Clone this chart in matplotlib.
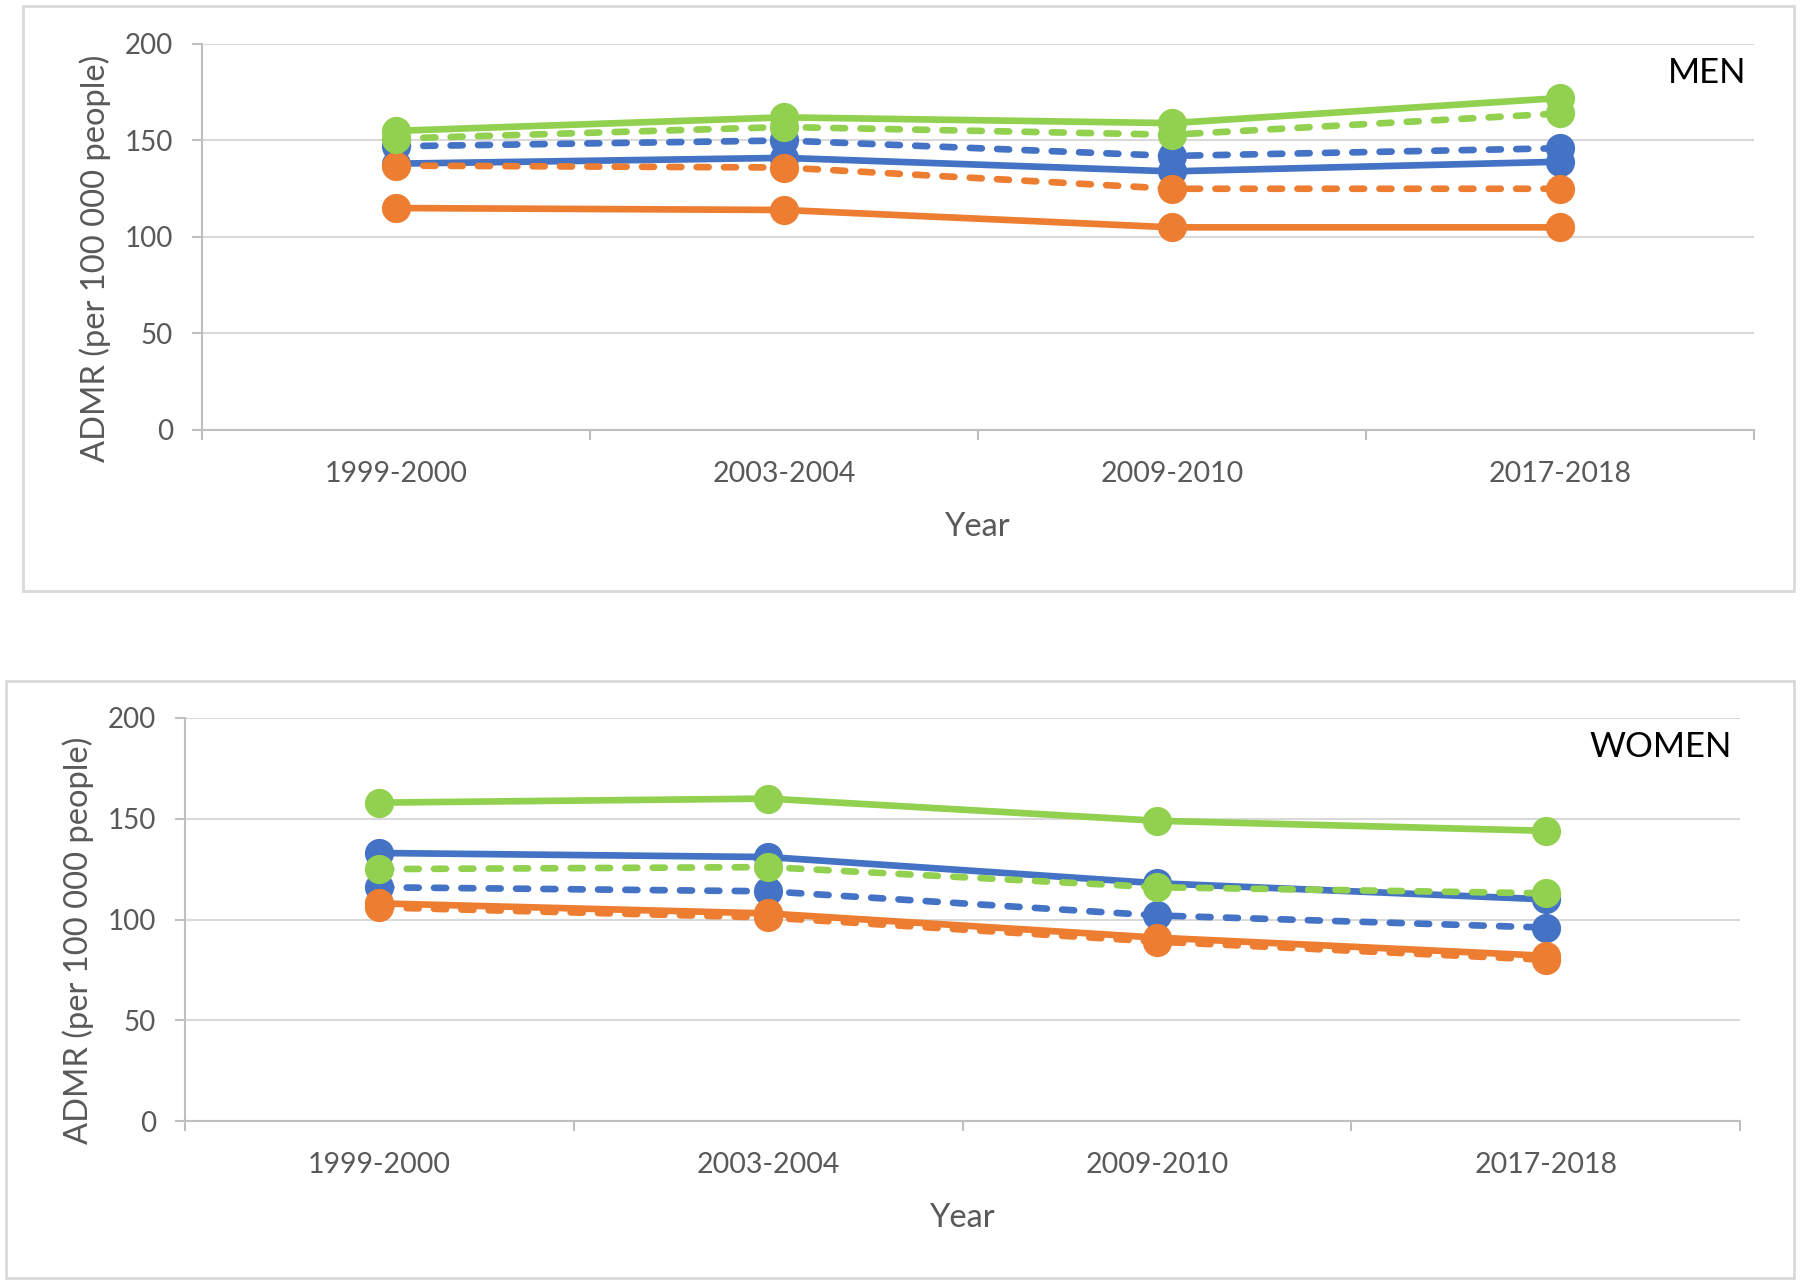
import numpy as np
import matplotlib
matplotlib.use('Agg')
import matplotlib.pyplot as plt
from matplotlib.patches import Rectangle

plt.rcParams['font.family'] = ['Lato', 'DejaVu Sans']

years = ['1999-2000', '2003-2004', '2009-2010', '2017-2018']

# MEN
men_blue_solid = [138, 141, 134, 139]
men_blue_dash = [147, 150, 142, 146]
men_orange_solid = [115, 114, 105, 105]
men_orange_dash = [137, 136, 125, 125]
men_green_solid = [155, 162, 159, 172]
men_green_dash = [151, 157, 153, 164]

# WOMEN
women_blue_solid = [133, 131, 118, 110]
women_blue_dash = [116, 114, 102, 96]
women_orange_solid = [108, 103, 91, 82]
women_orange_dash = [106, 101, 89, 80]
women_green_solid = [158, 160, 149, 144]
women_green_dash = [125, 126, 116, 113]

BLUE = '#4472C4'
ORANGE = '#ED7D31'
GREEN = '#92D050'
GRAY = '#595959'
GRID = '#d9d9d9'

fig = plt.figure(figsize=(18, 12.85), dpi=100)
W, H = 1800, 1285

def box(x0, y0, x1, y1):
    fig.patches.append(Rectangle((x0 / W, 1 - y1 / H), (x1 - x0) / W, (y1 - y0) / H,
                                 transform=fig.transFigure, fill=False,
                                 edgecolor=GRID, lw=2))

box(23, 6, 1794, 591)
box(6, 681, 1794, 1278)


def panel(rect, series, title, title_xy, label_y):
    ax = fig.add_axes(rect)
    x = np.arange(len(years))
    for vals, color, dashed in series:
        line, = ax.plot(x, vals, color=color, lw=4.8, marker='o', markersize=20,
                        solid_capstyle='round', dash_capstyle='round', zorder=3)
        if dashed:
            line.set_dashes((1.8, 2.3))
    ax.set_xlim(-0.5, 3.5)
    ax.set_ylim(0, 200)
    ax.set_yticks([0, 50, 100, 150, 200])
    ax.yaxis.grid(True, color=GRID, lw=1.5)
    ax.set_axisbelow(True)
    for s in ['top', 'right']:
        ax.spines[s].set_visible(False)
    ax.spines['left'].set_color('#bfbfbf')
    ax.spines['bottom'].set_color('#bfbfbf')
    ax.spines['left'].set_linewidth(1.5)
    ax.spines['bottom'].set_linewidth(1.5)
    ax.set_xticks(np.arange(-0.5, 4, 1))
    ax.set_xticklabels([])
    ax.set_xticks(x, minor=True)
    ax.set_xticklabels(years, minor=True)
    ax.tick_params(axis='x', which='major', length=7, width=1.5, color='#bfbfbf')
    ax.tick_params(axis='x', which='minor', length=0, pad=22, labelsize=20.5, labelcolor=GRAY)
    ax.tick_params(axis='y', length=7, width=1.5, color='#bfbfbf', labelsize=20,
                   labelcolor=GRAY, pad=14)
    ax.set_xlabel('Year', fontsize=23.5, color=GRAY, labelpad=18)
    ax.set_ylabel('ADMR (per 100 000 people)', fontsize=23.5, color=GRAY, labelpad=10)
    ax.yaxis.label.set_y(label_y)
    fig.text(title_xy[0] / W, 1 - title_xy[1] / H, title, fontsize=25, color='black',
             ha='center', va='center')
    return ax


panel([202 / W, 1 - 430 / H, 1552 / W, 386 / H],
      [(men_blue_solid, BLUE, False), (men_blue_dash, BLUE, True),
       (men_orange_solid, ORANGE, False), (men_orange_dash, ORANGE, True),
       (men_green_solid, GREEN, False), (men_green_dash, GREEN, True)],
      'MEN', (1707, 73), 0.446)

panel([185 / W, 1 - 1121 / H, 1555 / W, 403 / H],
      [(women_blue_solid, BLUE, False), (women_blue_dash, BLUE, True),
       (women_orange_solid, ORANGE, False), (women_orange_dash, ORANGE, True),
       (women_green_solid, GREEN, False), (women_green_dash, GREEN, True)],
      'WOMEN', (1661, 747), 0.449)

fig.savefig('out.png', dpi=100, facecolor='white')
